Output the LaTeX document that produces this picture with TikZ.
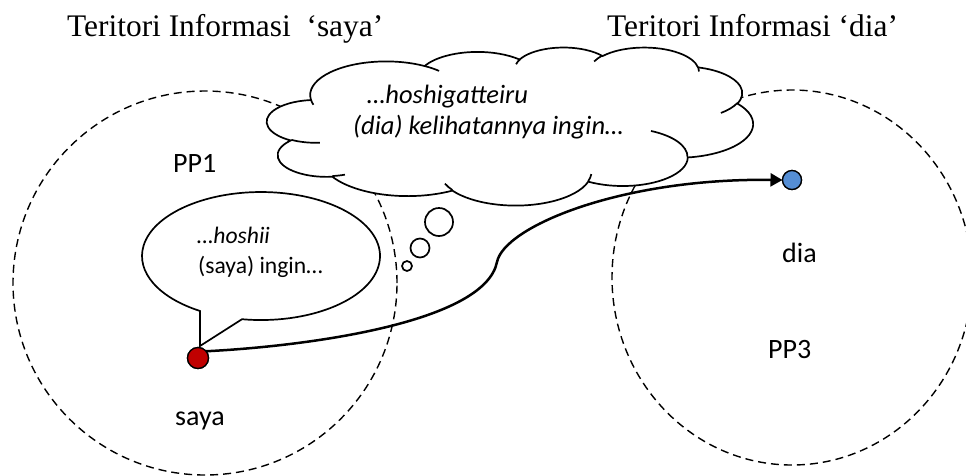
\documentclass[tikz,border=0pt]{standalone}
\usepackage{fontspec}
\setmainfont{Liberation Serif}
\newfontfamily\calfont{Carlito}
\usetikzlibrary{arrows.meta,shapes.geometric}
\definecolor{dotred}{RGB}{192,0,0}
\definecolor{dotblue}{RGB}{85,142,213}
\begin{document}
\begin{tikzpicture}[x=1pt,y=-1pt,
  territory/.style={draw=black, line width=1.4pt, dash pattern=on 8pt off 5pt, inner sep=0pt, outer sep=0pt},
  outline/.style={draw=black, line width=1.7pt, fill=white},
  tailline/.style={draw=black, line width=1.7pt},
  dotnode/.style={circle, draw=black, line width=1.3pt, inner sep=0pt, outer sep=0pt},
  thought/.style={circle, draw=black, line width=1.7pt, fill=white, inner sep=0pt, outer sep=0pt},
  flow/.style={draw=black, line width=2.5pt, -{Triangle[length=12pt,width=13pt]}},
  titletext/.style={anchor=base west, inner sep=0pt, font=\fontsize{31.4}{36}\selectfont},
  labeltext/.style={anchor=base west, inner sep=0pt, font=\calfont\fontsize{28}{33}\selectfont},
  cloudtext/.style={anchor=base west, inner sep=0pt, font=\calfont\itshape\fontsize{26.5}{32}\selectfont},
  bubbletext/.style={anchor=base west, inner sep=0pt, font=\calfont\fontsize{23.6}{29}\selectfont}
]
\useasboundingbox (0,0) rectangle (966,475);

% territories
\node[territory, circle, minimum size=384pt] (terSaya) at (205,283) {};
\node[territory, ellipse, minimum width=360pt, minimum height=375pt] (terDia) at (792,277.5) {};

% thought cloud (Office cloud geometry)
\begin{scope}[shift={(267pt,-47pt)}, x=1.125pt, y=-0.36574pt]
\path[outline] (39.00,143.70)
 arc[start angle=-187.745, end angle=-59.634, x radius=67.53, y radius=91.90]
 arc[start angle=-152.025, end angle=-45.479, x radius=53.33, y radius=72.67]
 arc[start angle=-153.48, end angle=-37.324, x radius=43.65, y radius=59.45]
 arc[start angle=-139.704, end angle=-10.210, x radius=48.57, y radius=65.95]
 arc[start angle=-74.769, end angle=23.210, x radius=53.33, y radius=72.73]
 arc[start angle=-37.523, end angle=81.860, x radius=67.75, y radius=92.20]
 arc[start angle=0.460, end angle=121.937, x radius=57.85, y radius=78.67]
 arc[start angle=16.844, end angle=146.250, x radius=67.52, y radius=92.15]
 arc[start angle=59.025, end angle=150.166, x radius=77.20, y radius=105.43]
 arc[start angle=-276.697, end angle=-136.916, x radius=43.60, y radius=59.18]
 arc[start angle=-239.655, end angle=-95.887, x radius=43.45, y radius=59.45]
 -- cycle;
\path[tailline]
 (46.93,261.77) arc[start angle=85.544, end angle=120.346, x radius=43.45, y radius=59.45]
 (69.28,348.99) arc[start angle=68.242, end angle=83.303, x radius=43.60, y radius=59.18]
 (164.78,390.90) arc[start angle=146.250, end angle=158.473, x radius=67.52, y radius=92.15]
 (288.27,347.51) arc[start angle=4.737, end angle=16.844, x radius=67.52, y radius=92.15]
 (341.29,229.54) arc[start angle=-64.007, end angle=0.460, x radius=57.85, y radius=78.67]
 (417.98,153.54) arc[start angle=23.210, end angle=49.652, x radius=53.33, y radius=72.73]
 (383.24,54.26) arc[start angle=-10.210, end angle=0.821, x radius=48.57, y radius=65.95]
 (290.78,39.52) arc[start angle=-156.279, end angle=-139.704, x radius=48.57, y radius=65.95]
 (221.41,47.20) arc[start angle=-167.724, end angle=-153.480, x radius=43.65, y radius=59.45]
 (140.00,51.92) arc[start angle=-59.634, end angle=-45.739, x radius=67.53, y radius=91.90]
 (41.27,157.89) arc[start angle=163.193, end angle=172.255, x radius=67.53, y radius=91.90];
\end{scope}

% thought bubbles
\node[thought, minimum size=28pt] (thA) at (439,222) {};
\node[thought, minimum size=19pt] (thB) at (420,248) {};
\node[thought, minimum size=10pt] (thC) at (407,266) {};

% speech bubble (ellipse callout)
\coordinate (bubTip) at (200,346);
\path[outline] (242,319.2) arc[start angle=99.19, end angle=-239.16, x radius=119, y radius=64] -- (bubTip) -- cycle;

% dots
\node[dotnode, fill=dotred, minimum size=21pt] (saya) at (198,358) {};
\node[dotnode, fill=dotblue, minimum size=19pt] (dia) at (792,180) {};

% connector
\coordinate (bend) at (497,262);
\draw[flow] (saya.40) .. controls (310,346) and (485,322) .. (bend)
  .. controls (504,227) and (620,178) .. (dia.west);
\node[dotnode, fill=dotred, minimum size=21pt] at (saya) {};
\node[dotnode, fill=dotblue, minimum size=19pt] at (dia) {};

% texts
\node[titletext] (titleSaya) at (67,36) {Teritori Informasi~~‘saya’};
\node[titletext] (titleDia) at (607,36) {Teritori Informasi ‘dia’};
\node[cloudtext] (cloudA) at (367,103) {…hoshigatteiru};
\node[cloudtext] (cloudB) at (353,134) {(dia) kelihatannya ingin…};
\node[bubbletext, font=\calfont\itshape\fontsize{23.6}{29}\selectfont] (bubA) at (197,243) {…hoshii};
\node[bubbletext] (bubB) at (198,273) {(saya) ingin…};
\node[labeltext] (lblPP1) at (173,172) {PP1};
\node[labeltext] (lblSaya) at (175,425) {saya};
\node[labeltext] (lblDia) at (782,262) {dia};
\node[labeltext] (lblPP3) at (768,358) {PP3};
\end{tikzpicture}
\end{document}
